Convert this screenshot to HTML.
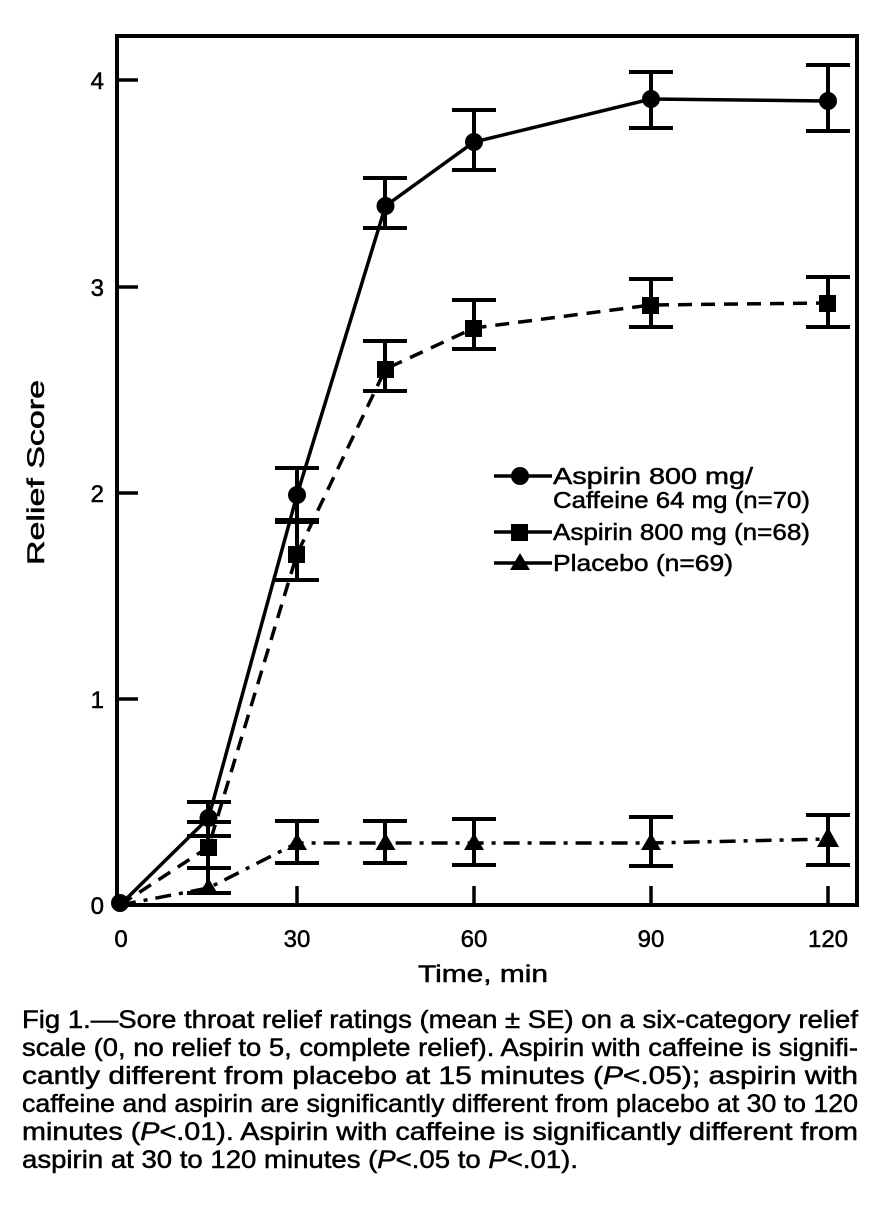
<!DOCTYPE html>
<html><head><meta charset="utf-8"><style>
body{margin:0;background:#fff}
svg text{font-family:"Liberation Sans",Arial,sans-serif;fill:#000;stroke:#000;stroke-width:0.5}
</style></head><body>
<svg width="895" height="1200" viewBox="0 0 895 1200" xmlns="http://www.w3.org/2000/svg">
<rect x="117" y="36" width="740" height="869" fill="none" stroke="#000" stroke-width="4"/>
<g stroke="#000" stroke-width="3.5">
<line x1="117" y1="80" x2="138" y2="80"/><line x1="117" y1="287" x2="138" y2="287"/><line x1="117" y1="493" x2="138" y2="493"/><line x1="117" y1="699" x2="138" y2="699"/>
<line x1="297" y1="905" x2="297" y2="886"/><line x1="474" y1="905" x2="474" y2="886"/><line x1="651" y1="905" x2="651" y2="886"/><line x1="828" y1="905" x2="828" y2="886"/>
</g>
<g font-size="24" text-anchor="end">
<text x="104" y="89">4</text><text x="104" y="296">3</text><text x="104" y="502">2</text><text x="104" y="708">1</text><text x="104" y="914">0</text>
</g>
<g font-size="24" text-anchor="middle">
<text x="121" y="947">0</text><text x="297" y="947">30</text><text x="474" y="947">60</text><text x="651" y="947">90</text><text x="828" y="947">120</text>
</g>
<text font-size="24" x="418" y="982" textLength="130" lengthAdjust="spacingAndGlyphs">Time, min</text>
<text font-size="24" transform="translate(44,565) rotate(-90)" textLength="185" lengthAdjust="spacingAndGlyphs">Relief Score</text>
<g stroke="#000" stroke-width="4" fill="none">
<path d="M208 802V836M187 802H231M187 836H231"/>
<path d="M297 468V522M275 468H319M275 522H319"/>
<path d="M385 178V228M363 178H407M363 228H407"/>
<path d="M474 110V170M452 110H496M452 170H496"/>
<path d="M651 72V128M629 72H673M629 128H673"/>
<path d="M828 65V131M806 65H850M806 131H850"/>
<path d="M208 822V868M187 822H231M187 868H231"/>
<path d="M297 520V580M275 520H319M275 580H319"/>
<path d="M385 341V391M363 341H407M363 391H407"/>
<path d="M474 300V349M452 300H496M452 349H496"/>
<path d="M651 279V327M629 279H673M629 327H673"/>
<path d="M828 277V327M806 277H850M806 327H850"/>
<path d="M208 868V893M187 893H231"/>
<path d="M297 821V863M275 821H319M275 863H319"/>
<path d="M385 821V863M363 821H407M363 863H407"/>
<path d="M474 819V865M452 819H496M452 865H496"/>
<path d="M651 817V866M629 817H673M629 866H673"/>
<path d="M828 815V865M806 815H850M806 865H850"/>
</g>
<g fill="none" stroke="#000" stroke-width="3.5">
<polyline points="120,905 208.5,818 297,495 385.5,206 474,142 651,99 828,101"/>
<polyline stroke-dasharray="14,9" points="120,905 208.5,847 297,554 385.5,369 474,328 651,305 828,303"/>
<polyline stroke-dasharray="16,8,4,8" points="120,905 208.5,888 297,843 385.5,843 474,843 651,843 828,839"/>
</g>
<g fill="#000">
<circle cx="120" cy="903" r="9"/>
<circle cx="208.5" cy="818" r="9"/><circle cx="297" cy="495" r="9"/><circle cx="385.5" cy="206" r="9"/><circle cx="474" cy="142" r="9"/><circle cx="651" cy="99" r="9"/><circle cx="828" cy="101" r="9"/>
<rect x="200" y="839" width="17" height="17"/><rect x="288" y="546" width="17" height="17"/><rect x="377" y="361" width="17" height="17"/><rect x="465" y="320" width="17" height="17"/><rect x="642" y="297" width="17" height="17"/><rect x="819" y="295" width="17" height="17"/>
<path d="M208.5 878l10 17h-20z"/><path d="M297 833l10 17h-20z"/><path d="M385.5 833l10 17h-20z"/><path d="M474 833l10 17h-20z"/><path d="M651 833l10 17h-20z"/><path d="M828 827l11 20h-22z"/>
</g>
<g stroke="#000" stroke-width="3.5">
<line x1="494" y1="476" x2="552" y2="476"/><line x1="494" y1="532" x2="552" y2="532"/><line x1="494" y1="563" x2="552" y2="563"/>
</g>
<g fill="#000">
<circle cx="520" cy="476" r="9"/><rect x="511" y="524" width="17" height="17"/><path d="M520 553l10 17h-20z"/>
</g>
<g font-size="23">
<text x="553" y="484" textLength="200" lengthAdjust="spacingAndGlyphs">Aspirin 800 mg/</text>
<text x="553" y="508" textLength="257" lengthAdjust="spacingAndGlyphs">Caffeine 64 mg (n=70)</text>
<text x="553" y="540" textLength="257" lengthAdjust="spacingAndGlyphs">Aspirin 800 mg (n=68)</text>
<text x="553" y="571" textLength="180" lengthAdjust="spacingAndGlyphs">Placebo (n=69)</text>
</g>
<g font-size="25">
<text x="22" y="1028" textLength="836" lengthAdjust="spacingAndGlyphs">Fig 1.—Sore throat relief ratings (mean ± SE) on a six-category relief</text>
<text x="22" y="1056" textLength="836" lengthAdjust="spacingAndGlyphs">scale (0, no relief to 5, complete relief). Aspirin with caffeine is signifi-</text>
<text x="22" y="1084" textLength="836" lengthAdjust="spacingAndGlyphs">cantly different from placebo at 15 minutes (<tspan font-style="italic">P</tspan>&lt;.05); aspirin with</text>
<text x="22" y="1112" textLength="836" lengthAdjust="spacingAndGlyphs">caffeine and aspirin are significantly different from placebo at 30 to 120</text>
<text x="22" y="1140" textLength="836" lengthAdjust="spacingAndGlyphs">minutes (<tspan font-style="italic">P</tspan>&lt;.01). Aspirin with caffeine is significantly different from</text>
<text x="22" y="1168" textLength="556" lengthAdjust="spacingAndGlyphs">aspirin at 30 to 120 minutes (<tspan font-style="italic">P</tspan>&lt;.05 to <tspan font-style="italic">P</tspan>&lt;.01).</text>
</g>
</svg>
</body></html>
